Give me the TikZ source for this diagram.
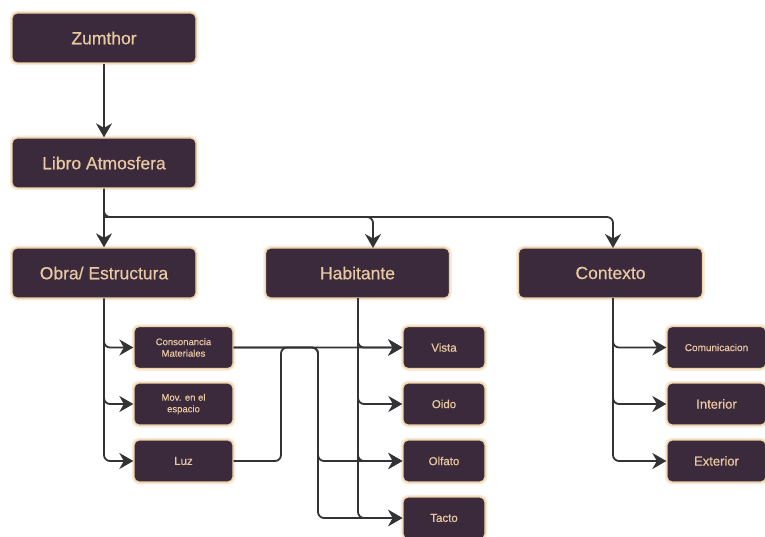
\documentclass[tikz,border=0pt]{standalone}
\usepackage{fontspec}
\setmainfont{Liberation Sans}
\newfontfamily\cardfont{Liberation Sans}[FakeBold=0.6]
\usetikzlibrary{arrows.meta}

\definecolor{boxfill}{HTML}{3B2A3C}
\definecolor{boxedge}{HTML}{EFD2A8}
\definecolor{boxglow}{HTML}{F3DDBB}
\definecolor{boxtext}{HTML}{E8C8A0}
\definecolor{wire}{HTML}{333335}

\tikzset{
  card/.style={
    preaction={draw=boxglow, line width=4.5pt, opacity=0.55},
    draw=boxedge, line width=1.3pt, fill=boxfill,
    rounded corners=5pt, text=boxtext, align=center, inner sep=0pt
  },
  bigcard/.style={card, minimum width=184pt, minimum height=50pt,
    font=\cardfont\fontsize{17.5}{20}\selectfont},
  smallcard/.style={card, minimum width=99pt, minimum height=42pt,
    font=\cardfont\fontsize{9.5}{11.5}\selectfont},
  sensecard/.style={card, minimum width=82pt, minimum height=42pt,
    font=\cardfont\fontsize{11.5}{13}\selectfont},
  wire/.style={draw=wire, line width=1.8pt, rounded corners=6pt,
    -{Stealth[length=14pt, width=16pt, inset=4.5pt]}}
}

\begin{document}
\begin{tikzpicture}[x=1pt, y=-1pt]
  \path[use as bounding box] (0,0) rectangle (765,537);
  \clip (0,0) rectangle (765,537);
  \fill[white] (0,0) rectangle (765,537);

  % top of the tree
  \node[bigcard] (zum) at (104,38) {Zumthor};
  \node[bigcard] (libro) at (104,163) {Libro Atmosfera};

  % three themes
  \node[bigcard] (obra) at (104,273) {Obra/ Estructura};
  \node[bigcard] (hab) at (357.5,273) {Habitante};
  \node[bigcard] (ctx) at (610.5,273) {Contexto};

  % leaves of Obra / Estructura
  \node[smallcard] (cons) at (183.5,347.5) {Consonancia\\Materiales};
  \node[smallcard] (mov) at (183.5,404) {Mov. en el\\espacio};
  \node[smallcard, font=\cardfont\fontsize{11.5}{13}\selectfont] (luz) at (183.5,461) {Luz};

  % the senses
  \node[sensecard] (vista) at (444,347.5) {Vista};
  \node[sensecard] (oido) at (444,404) {Oido};
  \node[sensecard] (olfato) at (444,461) {Olfato};
  \node[sensecard] (tacto) at (444,518) {Tacto};

  % leaves of Contexto
  \node[smallcard, font=\cardfont\fontsize{10}{12}\selectfont] (com) at (716.5,347.5) {Comunicacion};
  \node[smallcard, font=\cardfont\fontsize{13}{15}\selectfont] (int) at (716.5,404) {Interior};
  \node[smallcard, font=\cardfont\fontsize{13}{15}\selectfont] (ext) at (716.5,461) {Exterior};

  % branch points
  \coordinate (split) at (104,217);
  \coordinate (luzup) at (281,461);
  \coordinate (drop) at (318,347.5);

  % connectors
  \draw[wire] (zum.south) -- (libro.north);
  \draw[wire] (libro.south) -- (obra.north);
  \draw[wire] (libro.south) -- (split) -- (373,217) -- (373,248);
  \draw[wire] (split) -- (613,217) -- (613,248);

  \draw[wire] (obra.south) |- (cons.west);
  \draw[wire] (obra.south) |- (mov.west);
  \draw[wire] (obra.south) |- (luz.west);

  \draw[wire] (358,298) |- (vista.west);
  \draw[wire] (358,298) |- (oido.west);
  \draw[wire] (358,298) |- (olfato.west);
  \draw[wire] (358,298) |- (tacto.west);

  \draw[wire] (613,298) |- (com.west);
  \draw[wire] (613,298) |- (int.west);
  \draw[wire] (613,298) |- (ext.west);

  % cross links between materials, light and the senses
  \draw[wire] (cons.east) -- (vista.west);
  \draw[wire] (luz.east) -- (luzup) -- (luzup |- vista.west) -- (vista.west);
  \draw[wire] (cons.east) -- (drop) |- (olfato.west);
  \draw[wire] (cons.east) -- (drop) |- (tacto.west);
\end{tikzpicture}
\end{document}
